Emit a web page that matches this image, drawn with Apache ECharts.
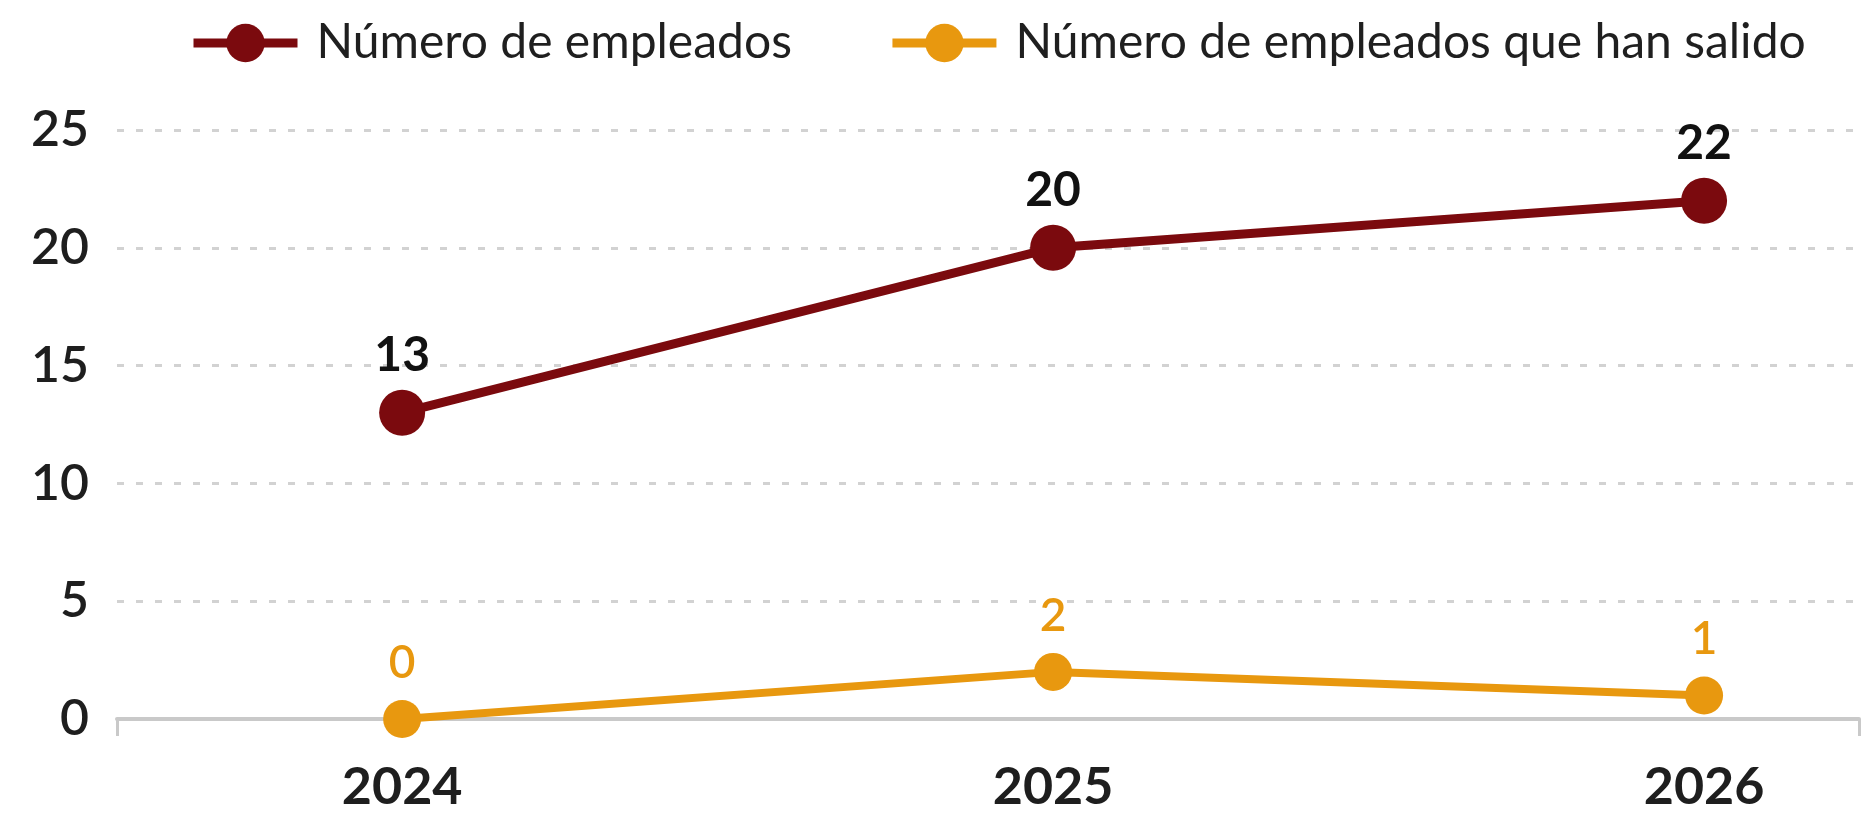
<!DOCTYPE html>
<html>
<head>
<meta charset="utf-8">
<title>Empleados</title>
<script src="https://cdn.jsdelivr.net/npm/echarts@6/dist/echarts.min.js"></script>
<style>
    html, body { margin: 0; padding: 0; background: #fff; }
    #main { width: 1861px; height: 813px; }
</style>
</head>
<body>
<div id="main"></div>
<script>
// datos
var years = [2024, 2025, 2026];
var empleados = [13, 20, 22];
var salidos = [0, 2, 1];
var yTicks = [0, 5, 10, 15, 20, 25];

var serieNames = ['Número de empleados', 'Número de empleados que han salido'];
var colors = ['#7b0a0e', '#e8980f'];
var font = 'Lato';

var xMin = 2023.562;
var xMax = 2026.238;

function pairs(values) {
    return years.map(function (y, i) {
        return [y, values[i]];
    });
}

var chart = echarts.init(document.getElementById('main'));

var option = {
    animation: false,
    color: colors,
    textStyle: { fontFamily: font },
    legend: {
        left: 184,
        top: 14,
        itemWidth: 104,
        itemHeight: 48,
        itemGap: 96,
        lineStyle: { width: 9 },
        textStyle: {
            fontFamily: font,
            fontSize: 48,
            color: '#1f1f1f',
            padding: [0, 0, 0, 14]
        },
        data: serieNames
    },
    grid: {
        left: 117,
        right: 2,
        top: 130,
        bottom: 93
    },
    xAxis: {
        type: 'value',
        min: xMin,
        max: xMax,
        splitLine: { show: false },
        axisLine: {
            show: true,
            lineStyle: { color: '#c9c9c9', width: 4 }
        },
        axisTick: {
            show: true,
            customValues: [xMin, xMax],
            length: 17,
            lineStyle: { color: '#c9c9c9', width: 3 }
        },
        axisLabel: {
            customValues: years,
            margin: 42,
            fontFamily: font,
            fontSize: 52,
            fontWeight: 'bold',
            color: '#1e1e1e',
            formatter: function (v) {
                return String(v);
            }
        }
    },
    yAxis: {
        type: 'value',
        min: yTicks[0],
        max: yTicks[yTicks.length - 1],
        interval: 5,
        axisLine: { show: false },
        axisTick: { show: false },
        axisLabel: {
            margin: 28,
            fontFamily: font,
            fontSize: 50,
            fontWeight: 600,
            color: '#1e1e1e'
        },
        splitLine: {
            show: true,
            lineStyle: {
                color: '#d2d2d2',
                width: 3,
                type: [7, 12]
            }
        }
    },
    series: [
        {
            name: serieNames[0],
            type: 'line',
            data: pairs(empleados),
            symbol: 'circle',
            symbolSize: 46,
            lineStyle: { width: 9, color: colors[0] },
            itemStyle: { color: colors[0] },
            label: {
                show: true,
                position: 'top',
                distance: 10,
                fontFamily: font,
                fontSize: 48,
                fontWeight: 'bold',
                color: '#111',
                formatter: function (p) {
                    return p.value[1];
                }
            },
            z: 3
        },
        {
            name: serieNames[1],
            type: 'line',
            data: pairs(salidos),
            symbol: 'circle',
            symbolSize: 38,
            lineStyle: { width: 8, color: colors[1] },
            itemStyle: { color: colors[1] },
            label: {
                show: true,
                position: 'top',
                distance: 14,
                fontFamily: font,
                fontSize: 46,
                fontWeight: 600,
                color: colors[1],
                formatter: function (p) {
                    return p.value[1];
                }
            },
            z: 4
        }
    ]
};

chart.setOption(option);
</script>
</body>
</html>
